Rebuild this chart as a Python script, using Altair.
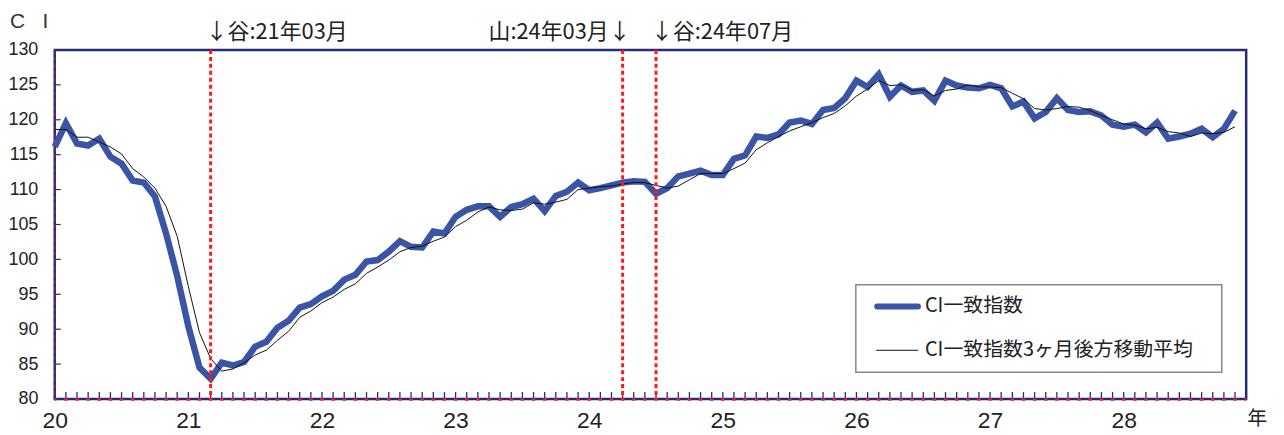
import altair as alt
import pandas as pd

# ---- data (monthly, 平成20年1月 .. 平成28年11月) ----
ci = [116.1, 119.5, 116.6, 116.3, 117.3, 114.7, 113.7, 111.3, 111.0, 109.0,
      103.7, 97.6, 90.4, 84.5, 82.9, 85.2, 84.8, 85.3, 87.5, 88.2,
      90.2, 91.2, 93.1, 93.6, 94.7, 95.5, 97.1, 97.8, 99.7, 99.9,
      101.1, 102.6, 101.8, 101.7, 104.0, 103.7, 106.1, 107.1, 107.6, 107.6,
      106.1, 107.5, 107.9, 108.7, 106.9, 109.1, 109.7, 111.0, 109.9, 110.2,
      110.6, 111.0, 111.2, 111.1, 109.4, 110.2, 111.9, 112.3, 112.7, 112.1,
      112.1, 114.4, 114.9, 117.6, 117.4, 117.9, 119.6, 119.9, 119.4, 121.4,
      121.7, 123.1, 125.6, 124.7, 126.5, 123.3, 124.9, 124.0, 124.2, 122.7,
      125.6, 124.9, 124.6, 124.5, 125.0, 124.5, 121.9, 122.6, 120.2, 121.1,
      123.1, 121.4, 121.1, 121.2, 120.6, 119.3, 119.0, 119.3, 118.2, 119.6,
      117.3, 117.6, 118.0, 118.7, 117.5, 118.7, 121.3]
ma3 = [118.6, 118.6, 117.5, 117.5, 116.8, 116.1, 115.1, 113.0, 111.8, 110.2,
       107.6, 103.3, 96.1, 89.5, 85.8, 84.0, 84.3, 85.2, 86.3, 87.0,
       88.4, 89.7, 91.7, 92.6, 93.8, 94.6, 95.7, 96.5, 98.0, 98.9,
       99.9, 101.1, 101.7, 101.9, 102.6, 103.2, 104.7, 105.6, 106.8, 107.5,
       107.1, 107.0, 107.2, 108.1, 107.9, 108.2, 108.6, 110.0, 110.2, 110.4,
       110.5, 110.8, 111.0, 111.0, 110.6, 110.2, 110.5, 111.4, 112.3, 112.3,
       112.3, 113.0, 113.8, 115.7, 116.7, 117.6, 118.4, 119.0, 119.6, 120.3,
       120.9, 122.0, 123.4, 124.4, 125.6, 124.9, 125.0, 124.2, 124.3, 123.4,
       124.2, 124.4, 125.0, 124.7, 124.7, 124.6, 123.8, 123.0, 121.6, 121.4,
       121.6, 121.9, 121.8, 121.3, 120.6, 120.0, 119.4, 119.2, 118.7, 118.9,
       118.3, 118.1, 117.6, 118.1, 118.0, 118.2, 119.0]

series_names = ["CI一致指数", "CI一致指数3ヶ月後方移動平均"]
year_labels = ["20", "21", "22", "23", "24", "25", "26", "27", "28"]
year_positions = [0, 12, 24, 36, 48, 60, 72, 84, 96]
turn_months = [14, 51, 54]
turn_texts = ["↓谷:21年03月", "山:24年03月↓", "↓谷:24年07月"]
turn_aligns = ["left", "right", "left"]
turn_dx = [-5, 8, -5]
y_label_values = [80, 85, 90, 95, 100, 105, 110, 115, 120, 125, 130]
y_tick_values = [85, 90, 95, 100, 105, 110, 115, 120, 125]
x_domain = [0, 107]
y_domain = [80, 130]

W, H = 1198, 351
NAVY = "#262b7c"
BLUE = "#3b55a6"
RED = "#ff1a1a"
JP = "Noto Sans CJK JP"
NUM = "Liberation Sans"
PERIOD = W / (x_domain[1] - x_domain[0])

n = len(ci)
df_ci = pd.DataFrame({"m": list(range(n)), "v": ci})
df_ma = pd.DataFrame({"m": list(range(n)), "v": ma3})
df_ticks = pd.DataFrame({"m": list(range(1, n + 1))})
df_yticks = pd.DataFrame({"v": y_tick_values})
df_turn = pd.DataFrame({"m": turn_months, "t": turn_texts})

xs = alt.Scale(domain=x_domain, nice=False, zero=False)
ys = alt.Scale(domain=y_domain, nice=False, zero=False)

label_expr = "{" + ",".join(f"'{p}':'{l}'" for p, l in zip(year_positions, year_labels)) + "}[datum.value]"

x_axis = alt.Axis(values=year_positions, labelExpr=label_expr, title=None, grid=False,
                  ticks=False, tickSize=0, domain=False, labelFont=NUM, labelFontSize=23,
                  labelColor="#222", labelBaseline="alphabetic", labelPadding=29,
                  labelFlush=False, labelOverlap=False)
y_axis = alt.Axis(values=y_label_values, title=None,
                  grid=False, ticks=False, tickSize=0, domain=False, labelFont=NUM,
                  labelFontSize=18, labelColor="#222", labelPadding=17,
                  labelBaseline="middle", labelFlush=False, labelOverlap=False)


def X(field="m:Q"):
    return alt.X(field, scale=xs, axis=x_axis)


def Y(field="v:Q"):
    return alt.Y(field, scale=ys, axis=y_axis)


line_ci = alt.Chart(df_ci).mark_line(color=BLUE, strokeWidth=6.5, strokeJoin="miter").encode(
    x=X(), y=Y())
line_ma = alt.Chart(df_ma).mark_line(color="#111", strokeWidth=1).encode(x=X(), y=Y())

# inner month ticks along the bottom
month_ticks = alt.Chart(df_ticks).mark_rule(color=NAVY, strokeWidth=1.3).encode(
    x=X(), y=alt.value(H), y2=alt.value(H - 7))
# red short dashes along the baseline, one per month
red_base = alt.Chart(pd.DataFrame({"m": [x_domain[0], x_domain[1]]})).mark_line(
    color=RED, strokeWidth=2.5, strokeDash=[3.5, PERIOD - 3.5], strokeDashOffset=1.75).encode(
    x=X(), y=alt.value(H + 0.5))
# inner y ticks
y_ticks = alt.Chart(df_yticks).mark_rule(color=NAVY, strokeWidth=1.2).encode(
    y=Y(), x=alt.value(0), x2=alt.value(6))

# left-edge faint dotted line
left_line = alt.Chart(pd.DataFrame({"m": [0]})).mark_rule(
    color=RED, strokeWidth=2, strokeDash=[4, 3], opacity=0.35).encode(
    x=X(), y=alt.value(0), y2=alt.value(H))

# turning-point dotted lines
turn_lines = alt.Chart(df_turn).mark_rule(color=RED, strokeWidth=3, strokeDash=[4, 3]).encode(
    x=X(), y=alt.value(0), y2=alt.value(H))

turn_labels = []
for m, t, a, dx in zip(turn_months, turn_texts, turn_aligns, turn_dx):
    turn_labels.append(
        alt.Chart(pd.DataFrame({"m": [m], "t": [t]})).mark_text(
            font=JP, fontSize=22, align=a, baseline="alphabetic", dx=dx, color="#222").encode(
            x=X(), y=alt.value(-11), text="t:N"))

ci_label = alt.Chart(pd.DataFrame({"t": ["C\u00a0\u00a0\u00a0I"]})).mark_text(
    font=NUM, fontSize=21, align="left", baseline="alphabetic", color="#333").encode(
    x=alt.value(-45), y=alt.value(-22), text="t:N")
nen_label = alt.Chart(pd.DataFrame({"t": ["年"]})).mark_text(
    font=JP, fontSize=20, align="left", baseline="alphabetic", color="#222").encode(
    x=alt.value(1199), y=alt.value(377), text="t:N")

# legend box
LX0, LX1, LY0, LY1 = 805.5, 1173.5, 236, 324
legend_box = alt.Chart(pd.DataFrame({"a": [0]})).mark_rect(
    fill="white", stroke="#888", strokeWidth=1.5).encode(
    x=alt.value(LX0), x2=alt.value(LX1), y=alt.value(LY0), y2=alt.value(LY1))
leg_line1 = alt.Chart(pd.DataFrame({"a": [0]})).mark_rule(
    color=BLUE, strokeWidth=6, strokeCap="round").encode(
    x=alt.value(827), x2=alt.value(868), y=alt.value(258))
leg_line2 = alt.Chart(pd.DataFrame({"a": [0]})).mark_rule(
    color="#111", strokeWidth=1).encode(
    x=alt.value(826), x2=alt.value(868), y=alt.value(302))
leg_text1 = alt.Chart(pd.DataFrame({"t": [series_names[0]]})).mark_text(
    font=JP, fontSize=20, align="left", baseline="middle", color="#222").encode(
    x=alt.value(875), y=alt.value(258), text="t:N")
leg_text2 = alt.Chart(pd.DataFrame({"t": [series_names[1]]})).mark_text(
    font=JP, fontSize=20, align="left", baseline="middle", color="#222").encode(
    x=alt.value(875), y=alt.value(302), text="t:N")

chart = alt.layer(
    line_ci, month_ticks, y_ticks, left_line, line_ma, turn_lines, red_base,
    *turn_labels, ci_label, nen_label,
    legend_box, leg_line1, leg_line2, leg_text1, leg_text2,
).properties(
    width=W, height=H,
    autosize=alt.AutoSizeParams(type="none"),
    padding={"left": 47, "top": 41, "right": 30, "bottom": 32},
).configure(
    background="white",
    view=alt.ViewConfig(stroke=NAVY, strokeWidth=2.5),
    axis=alt.AxisConfig(labelOverlap=False),
)

chart.save("out.html", embed_options={"renderer": "svg", "actions": False})
